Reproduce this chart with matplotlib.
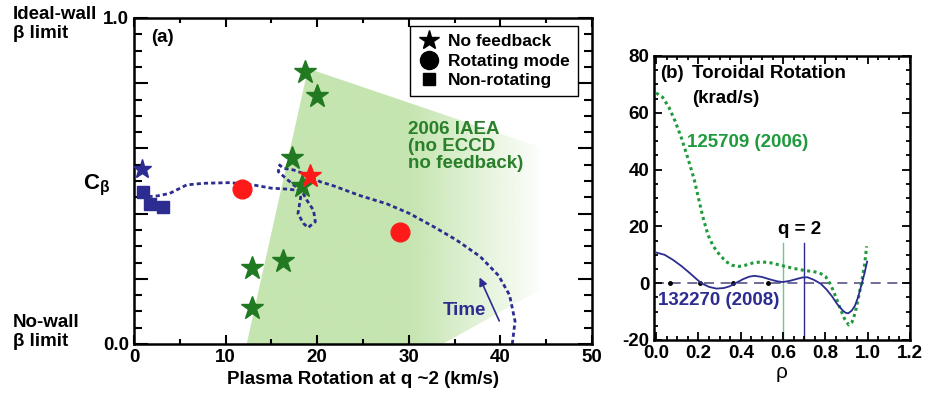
import numpy as np
import matplotlib
matplotlib.use('Agg')
import matplotlib.pyplot as plt
from matplotlib.patches import Polygon
from matplotlib.lines import Line2D
from matplotlib.ticker import MultipleLocator
from matplotlib.colors import to_rgb

plt.rcParams['font.family'] = ['Liberation Sans', 'DejaVu Sans']
plt.rcParams['font.weight'] = 'bold'
plt.rcParams['axes.unicode_minus'] = False
plt.rcParams['mathtext.fontset'] = 'custom'
plt.rcParams['mathtext.rm'] = 'Liberation Sans:bold'
plt.rcParams['mathtext.it'] = 'Liberation Sans:bold'

# ---- panel (a) data ----
nofb_green_x = [18.7, 20.0, 17.2, 18.3, 12.9, 16.3, 12.9]
nofb_green_y = [0.834, 0.761, 0.571, 0.485, 0.233, 0.255, 0.110]
nofb_blue_x = [0.9]
nofb_blue_y = [0.537]
nofb_red_x = [19.2]
nofb_red_y = [0.515]
rot_x = [11.8, 29.0]
rot_y = [0.475, 0.344]
nonrot_x = [0.95, 1.8, 3.2]
nonrot_y = [0.467, 0.430, 0.420]

# trajectory of the 2008 discharge (time runs from high rotation to low)
traj_x = [41.3, 41.6, 41.0, 39.8, 37.8, 35.2, 32.7, 30.1, 27.6, 24.7, 21.8, 20.3,
          19.0, 17.4, 16.3, 15.9, 15.75, 16.7, 17.8, 18.2, 17.9, 18.5, 19.0, 19.8,
          19.6, 18.9, 18.3, 16.8, 15.0, 13.0, 10.5, 7.6, 5.75, 3.9, 2.5, 1.6]
traj_y = [0.0, 0.07, 0.15, 0.21, 0.268, 0.319, 0.36, 0.40, 0.43, 0.455, 0.485, 0.498,
          0.518, 0.534, 0.539, 0.549, 0.529, 0.505, 0.48, 0.45, 0.40, 0.37, 0.357, 0.375,
          0.41, 0.44, 0.47, 0.475, 0.478, 0.488, 0.495, 0.493, 0.488, 0.462, 0.454, 0.452]

# 2006 IAEA region
region_x = [12.3, 19.0, 44.3, 44.3, 33.7]
region_y = [0.0, 0.845, 0.604, 0.166, 0.0]

# ---- panel (b) data ----
rho_2006 = [0.0, 0.03, 0.06, 0.09, 0.12, 0.15, 0.18, 0.20, 0.22, 0.245, 0.27, 0.30,
            0.33, 0.36, 0.39, 0.42, 0.46, 0.50, 0.54, 0.60, 0.65, 0.70, 0.75, 0.78,
            0.80, 0.825, 0.85, 0.87, 0.89, 0.91, 0.925, 0.94, 0.955, 0.97, 0.985, 0.995]
vrot_2006 = [67, 65.5, 62, 57, 51, 44, 36.5, 30, 23.5, 17, 13, 10,
             7.6, 6.3, 5.9, 6.3, 7.2, 7.5, 7.2, 6.1, 5.2, 4.5, 4.0, 3.3,
             2.4, -0.5, -5, -9, -12.5, -14.7, -13.8, -10.6, -5.5, 0, 6.5, 13]
rho_2008 = [0.0, 0.04, 0.08, 0.12, 0.16, 0.19, 0.214, 0.25, 0.285, 0.32, 0.347, 0.38,
            0.41, 0.44, 0.465, 0.50, 0.535, 0.57, 0.598, 0.63, 0.66, 0.69, 0.715, 0.745,
            0.778, 0.805, 0.832, 0.855, 0.879, 0.895, 0.908, 0.925, 0.939, 0.955, 0.97,
            0.985, 0.997]
vrot_2008 = [10.8, 10.0, 8.2, 6.0, 3.5, 1.5, 0, -1.3, -1.9, -1.7, -1.1, 0.2,
             1.4, 2.3, 2.6, 2.2, 1.4, 0.7, 0.4, 0.8, 1.4, 2.0, 2.1, 1.2,
             -0.2, -2.2, -4.7, -7.3, -9.4, -10.4, -10.6, -9.6, -8.0, -4.8, -0.6,
             3.6, 7.6]
rho_marks = [0.066, 0.207, 0.363, 0.527]
q2_2006 = 0.6
q2_2008 = 0.7

navy = '#2c2c91'
dkgreen = '#217a21'
txtgreen = '#2a7f2a'
dotgreen = '#1f9a3c'
red = '#ff1a1a'
shade = '#c5e5b0'
fs = 13.5

fig = plt.figure(figsize=(9.26, 4.0), dpi=100)
ax1 = fig.add_axes([0.1447, 0.14, 0.4946, 0.815])
ax2 = fig.add_axes([0.7063, 0.15, 0.2765, 0.71])

# ---------------- panel (a) ----------------
poly = Polygon(np.column_stack([region_x, region_y]), closed=True,
               facecolor='none', edgecolor='none')
ax1.add_patch(poly)
gx = np.linspace(12, 45, 300)
alpha = np.clip((45 - gx) / 15.0, 0.03, 1.0)
img = np.zeros((2, gx.size, 4))
img[..., :3] = to_rgb(shade)
img[..., 3] = alpha
im = ax1.imshow(img, extent=(12, 45, 0, 0.86), aspect='auto', origin='lower', zorder=0)
im.set_clip_path(poly)

ax1.plot(traj_x, traj_y, color=navy, lw=2.0, dashes=(1.5, 1.1), zorder=2)
ax1.plot(nofb_green_x, nofb_green_y, '*', color=dkgreen, ms=17, mec=dkgreen, zorder=3)
ax1.plot(nofb_red_x, nofb_red_y, '*', color=red, ms=17, mec=red, zorder=4)
ax1.plot(nofb_blue_x, nofb_blue_y, '*', color=navy, ms=14, zorder=3)
ax1.plot(rot_x, rot_y, 'o', color=red, ms=13.5, zorder=3)
ax1.plot(nonrot_x, nonrot_y, 's', color=navy, ms=8.5, zorder=3)

ax1.set_xlim(0, 50)
ax1.set_ylim(0, 1)
ax1.xaxis.set_major_locator(MultipleLocator(10))
ax1.xaxis.set_minor_locator(MultipleLocator(5))
ax1.set_yticks([0, 0.2, 0.4, 0.6, 0.8, 1.0])
ax1.set_yticklabels(['0.0', '', '', '', '', '1.0'])
ax1.yaxis.set_minor_locator(MultipleLocator(0.05))
ax1.tick_params(axis='both', which='both', direction='in', top=True, right=True,
                labelsize=fs, width=1.5)
ax1.tick_params(axis='y', which='major', length=10)
ax1.tick_params(axis='y', which='minor', length=5.5)
ax1.tick_params(axis='x', which='major', length=6.5)
ax1.tick_params(axis='x', which='minor', length=3.5)
for s in ax1.spines.values():
    s.set_linewidth(1.8)
ax1.set_xlabel('Plasma Rotation at q ~2 (km/s)', fontsize=fs, fontweight='bold', labelpad=4)

ax1.text(0.037, 0.965, '(a)', transform=ax1.transAxes, fontsize=fs, va='top')
ax1.text(-0.052, 0.485, r'$\mathrm{C}_{\mathrm{β}}$', transform=ax1.transAxes,
         fontsize=16, ha='right', va='center')
ax1.text(29.9, 0.685, '2006 IAEA\n(no ECCD\nno feedback)', color=txtgreen,
         fontsize=fs, va='top', ha='left', linespacing=1.0)
ax1.text(33.7, 0.104, 'Time', color=navy, fontsize=fs, va='center', ha='left')
ax1.annotate('', xy=(37.6, 0.212), xytext=(40.0, 0.063),
             arrowprops=dict(arrowstyle='-|>', color=navy, lw=1.2, mutation_scale=12))

handles = [Line2D([], [], ls='none', marker='*', color='black', ms=15),
           Line2D([], [], ls='none', marker='o', color='black', ms=13),
           Line2D([], [], ls='none', marker='s', color='black', ms=8.5)]
leg = ax1.legend(handles, ['No feedback', 'Rotating mode', 'Non-rotating'],
                 loc='upper right', bbox_to_anchor=(0.969, 0.975), fontsize=12.5,
                 frameon=True, fancybox=False, edgecolor='black', framealpha=1,
                 labelspacing=0.25, handletextpad=0.45, borderpad=0.45,
                 handlelength=1.3, borderaxespad=0)
leg.get_frame().set_linewidth(1.0)

fig.text(0.014, 0.985, 'Ideal-wall\nβ limit', fontsize=fs, va='top', ha='left',
         linespacing=1.15)
fig.text(0.014, 0.215, 'No-wall\nβ limit', fontsize=fs, va='top', ha='left',
         linespacing=1.15)

# ---------------- panel (b) ----------------
ax2.axhline(0, color='#555588', lw=1.2, dashes=(6, 4), zorder=1)
ax2.plot(rho_marks, [0] * len(rho_marks), 'o', color='black', ms=2.5, zorder=2)
ax2.plot([q2_2006, q2_2006], [-20, 14], color='#66cc88', lw=1.0, zorder=1)
ax2.plot([q2_2008, q2_2008], [-20, 14], color=navy, lw=1.0, zorder=1)
ax2.plot(rho_2006, vrot_2006, color=dotgreen, lw=2.2, dashes=(1.0, 1.1), zorder=3)
ax2.plot(rho_2008, vrot_2008, color=navy, lw=1.3, zorder=3)

ax2.set_xlim(-0.01, 1.2)
ax2.set_ylim(-20, 80)
ax2.xaxis.set_major_locator(MultipleLocator(0.2))
ax2.xaxis.set_minor_locator(MultipleLocator(0.05))
ax2.yaxis.set_major_locator(MultipleLocator(20))
ax2.yaxis.set_minor_locator(MultipleLocator(5))
ax2.xaxis.set_major_formatter(plt.FormatStrFormatter('%.1f'))
ax2.tick_params(axis='both', which='both', direction='in', top=True, right=True,
                labelsize=fs, width=1.3)
ax2.tick_params(which='major', length=5.5)
ax2.tick_params(which='minor', length=3)
for s in ax2.spines.values():
    s.set_linewidth(1.8)
ax2.set_xlabel('ρ', fontsize=15, fontweight='normal', labelpad=1)

ax2.text(0.02, 74.0, '(b)', fontsize=fs, va='center')
ax2.text(0.17, 74.0, 'Toroidal Rotation', fontsize=fs, va='center', ha='left')
ax2.text(0.17, 65.0, '(krad/s)', fontsize=fs, va='center', ha='left')
ax2.text(0.145, 49.4, '125709 (2006)', color=dotgreen, fontsize=fs, va='center')
ax2.text(0.01, -6, '132270 (2008)', color=navy, fontsize=fs, va='center')
ax2.text(0.676, 19, 'q = 2', fontsize=fs, va='center', ha='center')

fig.savefig('out.png', dpi=100)
